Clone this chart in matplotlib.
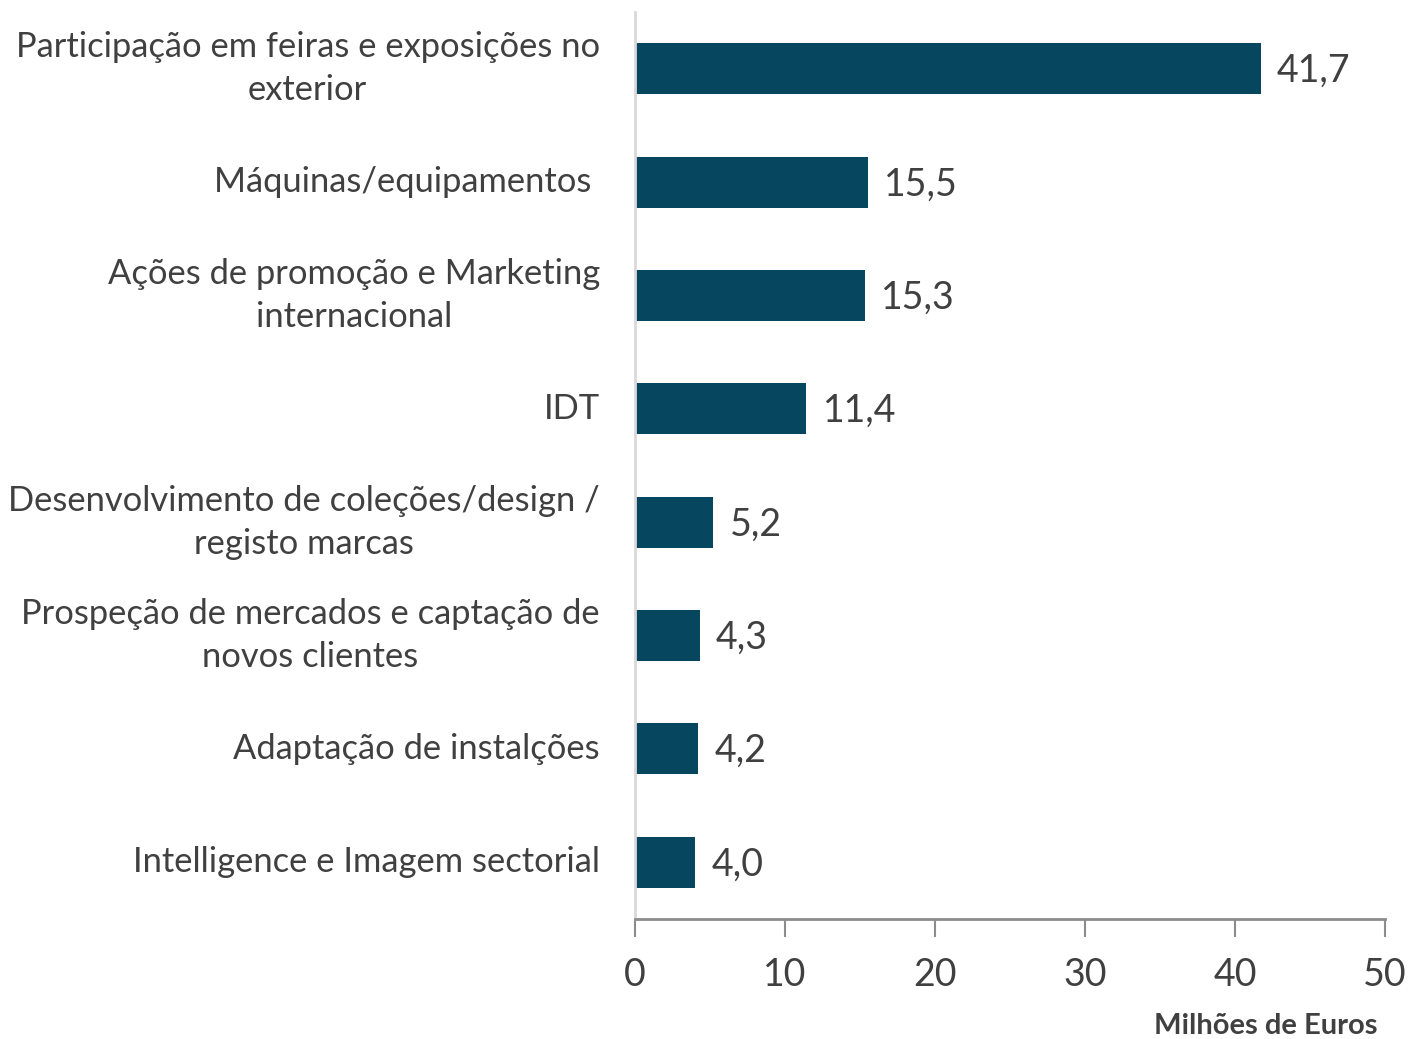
import matplotlib
matplotlib.use("Agg")
import matplotlib.pyplot as plt

# Apoios por tipologia de despesa (milhões de euros)
categorias = [
    "Participação em feiras e exposições no\nexterior",
    "Máquinas/equipamentos ",
    "Ações de promoção e Marketing\ninternacional",
    "IDT",
    "Desenvolvimento de coleções/design /\nregisto marcas",
    "Prospeção de mercados e captação de\nnovos clientes",
    "Adaptação de instalções",
    "Intelligence e Imagem sectorial",
]
valores = [41.7, 15.5, 15.3, 11.4, 5.2, 4.3, 4.2, 4.0]
xticks = [0, 10, 20, 30, 40, 50]

plt.rcParams['font.family'] = ['Lato', 'DejaVu Sans']

W, H = 1411, 1039
fig = plt.figure(figsize=(W / 100, H / 100), dpi=100)
ax = fig.add_axes([635 / W, 1 - 919 / H, 750 / W, 907 / H])

cor_barra = "#07465f"
cor_texto = "#404040"

pos = list(range(len(categorias)))
ax.barh(pos, valores, height=0.45, color=cor_barra)
ax.set_ylim(len(categorias) - 0.5, -0.5)
ax.set_xlim(0, 50)

for p, v in zip(pos, valores):
    ax.text(v + 1.1, p + 0.02, f"{v:.1f}".replace(".", ","), va="center",
            ha="left", fontsize=27, color=cor_texto)

ax.set_yticks(pos)
ax.set_yticklabels([])
for p, c in zip(pos, categorias):
    ax.text(-0.047, p, c, transform=ax.get_yaxis_transform(), ha="right",
            va="center", multialignment="center", fontsize=24.8,
            color=cor_texto, linespacing=1.43)
ax.tick_params(axis="y", length=0)

ax.set_xticks(xticks)
ax.set_xticklabels([str(t) for t in xticks], fontsize=27, color=cor_texto)
ax.tick_params(axis="x", direction="out", length=13, width=1.5,
               color="#8c8c8c", pad=14)

for s in ["top", "right"]:
    ax.spines[s].set_visible(False)
ax.spines["left"].set_color("#d9d9d9")
ax.spines["left"].set_linewidth(2)
ax.spines["bottom"].set_color("#8c8c8c")
ax.spines["bottom"].set_linewidth(2)

fig.text(1377 / W, 1 - 1026 / H, "Milhões de Euros", ha="right", va="center",
         fontsize=21, fontweight="bold", color=cor_texto)

fig.savefig("out.png", dpi=100)
